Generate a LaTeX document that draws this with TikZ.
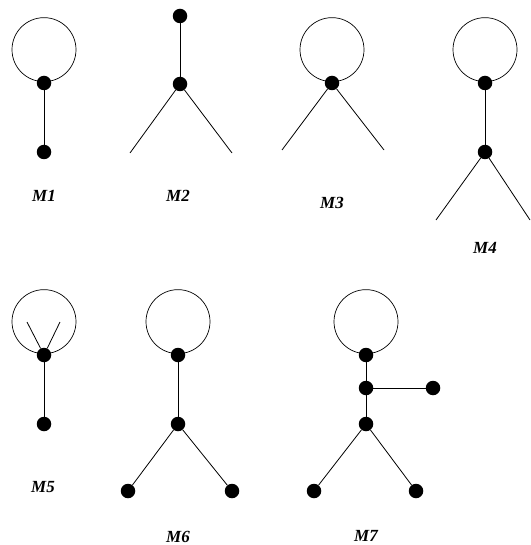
\documentclass[tikz,border=0pt]{standalone}
\usepackage{fontspec}
\setmainfont{Liberation Serif}
\begin{document}
\begin{tikzpicture}[x=1pt,y=-1pt,
  dot/.style={circle,fill=black,inner sep=0pt,minimum size=14.5pt},
  loopc/.style={circle,draw,line width=0.7pt,inner sep=0pt,minimum size=64pt,anchor=south},
  edge/.style={line width=0.8pt},
  lab/.style={font=\fontsize{17}{20}\selectfont\bfseries\itshape,inner sep=0pt}]
\useasboundingbox (0,0) rectangle (530,545);
% ---------- M1
\coordinate (a1p) at (44,82);
\node[loopc] (c1) at (a1p) {};
\node[dot] (a1) at (44,83) {};
\node[dot] (b1) at (44,152) {};
\draw[edge] (a1) -- (b1);
\node[lab] (l1) at (44,196) {M1};
% ---------- M2
\node[dot] (t2) at (180,16) {};
\node[dot] (a2) at (180,84) {};
\coordinate (e2l) at (130,153);
\coordinate (e2r) at (232,153);
\draw[edge] (t2) -- (a2);
\draw[edge] (a2) -- (e2l);
\draw[edge] (a2) -- (e2r);
\node[lab] (l2) at (178,196) {M2};
% ---------- M3
\coordinate (a3p) at (332,82);
\node[loopc] (c3) at (a3p) {};
\node[dot] (a3) at (332,83) {};
\coordinate (e3l) at (282,150);
\coordinate (e3r) at (384,150);
\draw[edge] (a3) -- (e3l);
\draw[edge] (a3) -- (e3r);
\node[lab] (l3) at (332,203) {M3};
% ---------- M4
\coordinate (a4p) at (485,82);
\node[loopc] (c4) at (a4p) {};
\node[dot] (a4) at (485,83) {};
\node[dot] (b4) at (485,152) {};
\coordinate (e4l) at (436,220);
\coordinate (e4r) at (530,220);
\draw[edge] (a4) -- (b4);
\draw[edge] (b4) -- (e4l);
\draw[edge] (b4) -- (e4r);
\node[lab] (l4) at (485,248) {M4};
% ---------- M5
\coordinate (a5p) at (44,354);
\node[loopc] (c5) at (a5p) {};
\node[dot] (a5) at (44,355) {};
\node[dot] (b5) at (44,424) {};
\coordinate (i5l) at (27,322);
\coordinate (i5r) at (60,322);
\draw[edge] (a5) -- (b5);
\draw[edge] (a5) -- (i5l);
\draw[edge] (a5) -- (i5r);
\node[lab] (l5) at (43,487) {M5};
% ---------- M6
\coordinate (a6p) at (178,354);
\node[loopc] (c6) at (a6p) {};
\node[dot] (a6) at (178,355) {};
\node[dot] (b6) at (178,424) {};
\node[dot] (d6l) at (128,491) {};
\node[dot] (d6r) at (232,491) {};
\draw[edge] (a6) -- (b6);
\draw[edge] (b6) -- (d6l);
\draw[edge] (b6) -- (d6r);
\node[lab] (l6) at (178,537) {M6};
% ---------- M7
\coordinate (a7p) at (366,354);
\node[loopc] (c7) at (a7p) {};
\node[dot] (a7) at (366,355) {};
\node[dot] (m7) at (366,388) {};
\node[dot] (h7) at (433,388) {};
\node[dot] (b7) at (366,424) {};
\node[dot] (d7l) at (314,491) {};
\node[dot] (d7r) at (416,491) {};
\draw[edge] (a7) -- (m7);
\draw[edge] (m7) -- (h7);
\draw[edge] (m7) -- (b7);
\draw[edge] (b7) -- (d7l);
\draw[edge] (b7) -- (d7r);
\node[lab] (l7) at (366,536) {M7};
\end{tikzpicture}
\end{document}
